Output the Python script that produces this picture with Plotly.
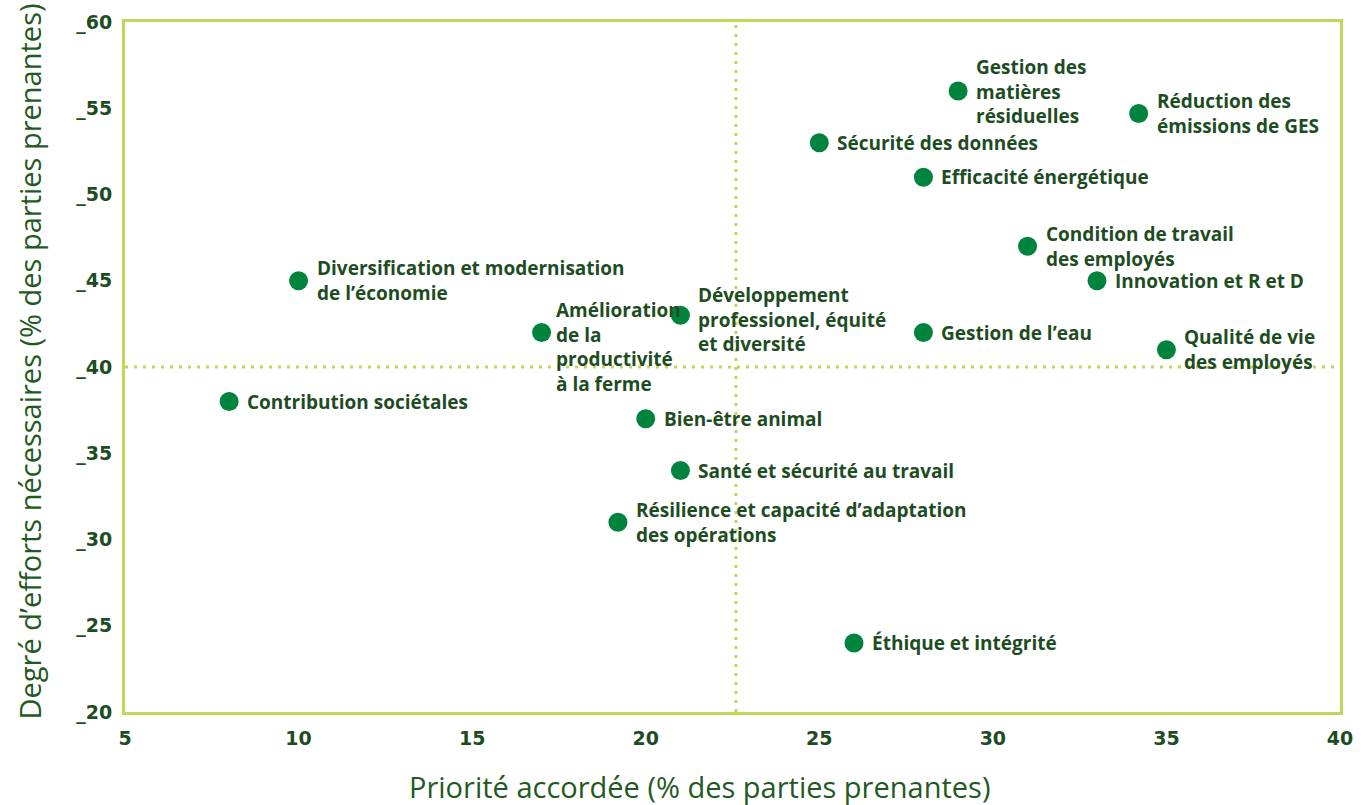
import plotly.graph_objects as go

# Enjeux : priorité accordée (x) et degré d'efforts nécessaires (y)
enjeux = [
    "Diversification et modernisation<br>de l’économie",
    "Amélioration<br>de la<br>productivité<br>à la ferme",
    "Développement<br>professionel, équité<br>et diversité",
    "Contribution sociétales",
    "Bien-être animal",
    "Santé et sécurité au travail",
    "Résilience et capacité d’adaptation<br>des opérations",
    "Éthique et intégrité",
    "Sécurité des données",
    "Gestion des<br>matières<br>résiduelles",
    "Réduction des<br>émissions de GES",
    "Efficacité énergétique",
    "Condition de travail<br>des employés",
    "Innovation et R et D",
    "Gestion de l’eau",
    "Qualité de vie<br>des employés",
]
priorite = [10, 17, 21, 8, 20, 21, 19.2, 26, 25, 29, 34.2, 28, 31, 33, 28, 35]
efforts = [-45, -42, -43, -38, -37, -34, -31, -24, -53, -56, -54.7, -51, -47, -45, -42, -41]

x_ticks = [5, 10, 15, 20, 25, 30, 35, 40]
y_ticks = [-60, -55, -50, -45, -40, -35, -30, -25, -20]
y_ticktext = ["_60", "_55", "_50", "_45", "_40", "_35", "_30", "_25", "_20"]

# Seuils des quadrants
seuil_priorite = 22.6
seuil_efforts = -40

VERT = "#00843D"
VERT_FONCE = "#1d4d1f"
VERT_TITRE = "#1f5a1f"
VERT_CLAIR = "#C2D65A"

fig = go.Figure()

fig.add_trace(go.Scatter(
    x=priorite, y=efforts, mode="markers",
    marker=dict(size=19, color=VERT, line=dict(width=0)),
    hoverinfo="skip", showlegend=False,
))

# Décalages particuliers des étiquettes (en pixels)
decalage_x = {1: 12}
decalage_y = {1: -14, 2: -4}

for i, (nom, xv, yv) in enumerate(zip(enjeux, priorite, efforts)):
    fig.add_annotation(
        x=xv, y=yv, text=nom, showarrow=False,
        xanchor="left", yanchor="middle", align="left",
        xshift=decalage_x.get(i, 16), yshift=decalage_y.get(i, 0),
        font=dict(family="Open Sans", size=19, color=VERT_FONCE, weight="bold"),
    )

# Lignes pointillées séparant les quadrants
fig.add_shape(type="line", xref="x", yref="paper", x0=seuil_priorite, x1=seuil_priorite,
              y0=0, y1=1, line=dict(color=VERT_CLAIR, width=3, dash="3px,6px"), layer="below")
fig.add_shape(type="line", xref="paper", yref="y", x0=0, x1=1,
              y0=seuil_efforts, y1=seuil_efforts,
              line=dict(color=VERT_CLAIR, width=3, dash="3px,6px"), layer="below")

# Titres des axes
fig.add_annotation(
    xref="paper", yref="paper", x=0.473, y=0, yshift=-74,
    xanchor="center", yanchor="middle", showarrow=False,
    text="Priorité accordée (% des parties prenantes)",
    font=dict(family="Open Sans", size=29, color=VERT_TITRE),
)
fig.add_annotation(
    xref="paper", yref="paper", x=0, y=0.508, xshift=-96,
    xanchor="center", yanchor="middle", showarrow=False, textangle=-90,
    text="Degré d’efforts nécessaires (% des parties prenantes)",
    font=dict(family="Open Sans", size=29, color=VERT_TITRE),
)

tick_font = dict(family="DejaVu Sans", size=19, color=VERT_FONCE, weight="bold")

fig.update_xaxes(
    range=[5, 40], tickvals=x_ticks, showgrid=False, zeroline=False,
    showline=True, mirror=True, linecolor=VERT_CLAIR, linewidth=3,
    ticks="outside", ticklen=7, tickcolor="rgba(0,0,0,0)",
    tickfont=tick_font,
)
fig.update_yaxes(
    range=[-20, -60], tickvals=y_ticks, ticktext=y_ticktext,
    showgrid=False, zeroline=False,
    showline=True, mirror=True, linecolor=VERT_CLAIR, linewidth=3,
    ticks="outside", ticklen=6, tickcolor="rgba(0,0,0,0)",
    tickfont=tick_font,
)

fig.update_layout(
    width=1367, height=805,
    margin=dict(l=125, r=27, t=22, b=93),
    plot_bgcolor="white", paper_bgcolor="white",
    showlegend=False,
)

fig.write_html("out.html")
